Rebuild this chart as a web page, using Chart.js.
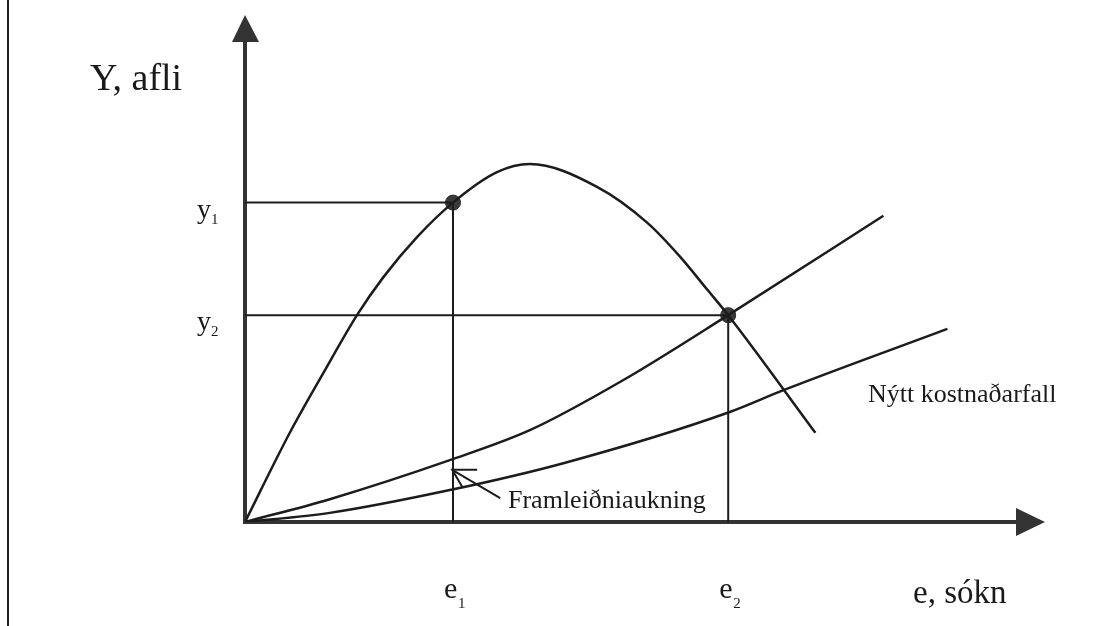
<!DOCTYPE html>
<html>
<head>
<meta charset="utf-8">
<script src="https://cdn.jsdelivr.net/npm/chart.js@4"></script>
<style>
  body { margin: 0; background: #fff; }
  #wrap { width: 1114px; height: 626px; }
</style>
</head>
<body>
<div id="wrap"><canvas id="aflaChart"></canvas></div>
<script>
// afli (yield) as a function of sókn (effort)
const yieldE = [0, 0.56, 0.98, 1.40, 1.73, 2.15, 2.60, 3.15, 3.56, 4.40, 5.03, 5.44, 5.78, 6.04, 7.13];
const yieldY = [0, 1.76, 2.94, 4.08, 4.83, 5.62, 6.30, 6.90, 7.06, 6.61, 5.90, 5.23, 4.58, 4.08, 1.76];

// old cost line
const costE = [0, 1.06, 2.56, 3.56, 4.73, 6.04, 7.98];
const costY = [0, 0.45, 1.22, 1.81, 2.80, 4.08, 6.04];

// new cost line (Nýtt kostnaðarfall)
const newCostE = [0, 1.06, 2.56, 3.98, 6.06, 6.73, 8.78];
const newCostY = [0, 0.18, 0.63, 1.16, 2.17, 2.60, 3.81];

// equilibrium points
const eValues = [2.6, 6.04];
const yValues = [6.3, 4.08];
const eLabels = ["1", "2"];

// Framleiðniaukning arrow, tail -> tip
const arrowE = [3.19, 2.59];
const arrowY = [0.47, 1.03];

const zip = (xs, ys) => xs.map((x, i) => ({ x: x, y: ys[i] }));
const ink = "#1c1c1c";
const serif = "'Liberation Serif', 'DejaVu Serif', serif";

function guide(points) {
  return {
    data: points,
    borderColor: ink,
    borderWidth: 2,
    pointRadius: 0,
    showLine: true,
    tension: 0,
  };
}

function curve(points) {
  return {
    data: points,
    borderColor: ink,
    borderWidth: 2.5,
    pointRadius: 0,
    showLine: true,
    cubicInterpolationMode: "monotone",
  };
}

const datasets = [];
eValues.forEach((e, i) => {
  datasets.push(guide([{ x: 0, y: yValues[i] }, { x: e, y: yValues[i] }]));
  datasets.push(guide([{ x: e, y: 0 }, { x: e, y: yValues[i] }]));
});
datasets.push(curve(zip(yieldE, yieldY)));
datasets.push(curve(zip(costE, costY)));
datasets.push(curve(zip(newCostE, newCostY)));
datasets.push(guide(zip(arrowE, arrowY)));
datasets.push({
  data: zip(eValues, yValues),
  backgroundColor: "#3a3a3a",
  borderColor: "#2a2a2a",
  pointRadius: 7.5,
  showLine: false,
});

// axes with arrow heads, border line and text labels
const diagramPlugin = {
  id: "diagram",
  beforeDatasetsDraw(chart) {
    const { ctx, chartArea: a } = chart;
    ctx.save();
    ctx.fillStyle = "#333";
    ctx.strokeStyle = "#333";
    ctx.lineWidth = 4;
    ctx.beginPath();
    ctx.moveTo(a.left - 2, a.bottom);
    ctx.lineTo(a.right - 28, a.bottom);
    ctx.moveTo(a.left, a.bottom + 2);
    ctx.lineTo(a.left, a.top + 26);
    ctx.stroke();
    ctx.beginPath();
    ctx.moveTo(a.right - 29, a.bottom - 14);
    ctx.lineTo(a.right, a.bottom);
    ctx.lineTo(a.right - 29, a.bottom + 14);
    ctx.closePath();
    ctx.fill();
    ctx.beginPath();
    ctx.moveTo(a.left - 13, a.top + 27);
    ctx.lineTo(a.left, a.top);
    ctx.lineTo(a.left + 14, a.top + 27);
    ctx.closePath();
    ctx.fill();
    ctx.restore();
  },
  afterDraw(chart) {
    const { ctx, chartArea: a, scales } = chart;
    const xs = scales.x, ys = scales.y;
    ctx.save();
    // frame line on the left
    ctx.strokeStyle = "#222";
    ctx.lineWidth = 2;
    ctx.beginPath();
    ctx.moveTo(8, 0);
    ctx.lineTo(8, chart.height);
    ctx.stroke();

    // arrow head of Framleiðniaukning
    const tx = xs.getPixelForValue(arrowE[1]);
    const ty = ys.getPixelForValue(arrowY[1]);
    ctx.strokeStyle = ink;
    ctx.beginPath();
    ctx.moveTo(tx + 25, ty);
    ctx.lineTo(tx, ty);
    ctx.lineTo(tx + 10, ty + 17);
    ctx.stroke();

    ctx.fillStyle = "#1a1a1a";
    ctx.textBaseline = "alphabetic";
    ctx.textAlign = "left";

    ctx.font = "38px " + serif;
    ctx.fillText("Y, afli", 90, 90);
    ctx.font = "33px " + serif;
    ctx.fillText("e, sókn", 913, a.bottom + 81);

    ctx.font = "26px " + serif;
    ctx.fillText("Nýtt kostnaðarfall", 868, 402);
    ctx.fillText("Framleiðniaukning", 508, 508);

    // y1, y2 and e1, e2 labels
    eValues.forEach((e, i) => {
      const py = ys.getPixelForValue(yValues[i]);
      ctx.font = "28px " + serif;
      ctx.fillText("y", a.left - 48, py + 15);
      ctx.font = "15px " + serif;
      ctx.fillText(eLabels[i], a.left - 34, py + 21);

      const px = xs.getPixelForValue(e);
      ctx.font = "30px " + serif;
      ctx.fillText("e", px - 9, a.bottom + 76);
      ctx.font = "15px " + serif;
      ctx.fillText(eLabels[i], px + 5, a.bottom + 86);
    });
    ctx.restore();
  },
};

new Chart(document.getElementById("aflaChart"), {
  type: "scatter",
  data: { datasets: datasets },
  options: {
    responsive: true,
    maintainAspectRatio: false,
    animation: false,
    layout: { padding: { left: 245, right: 69, top: 15, bottom: 104 } },
    plugins: { legend: { display: false }, tooltip: { enabled: false } },
    scales: {
      x: { type: "linear", min: 0, max: 10, display: false },
      y: { type: "linear", min: 0, max: 10, display: false },
    },
  },
  plugins: [diagramPlugin],
});
</script>
</body>
</html>
